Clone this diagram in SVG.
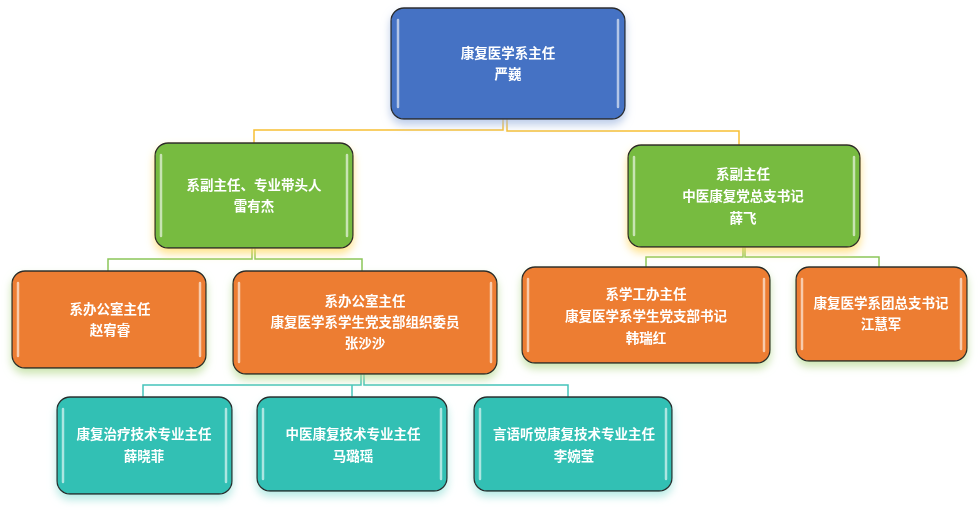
<svg xmlns="http://www.w3.org/2000/svg" width="979" height="512" viewBox="0 0 979 512">
<defs>
<filter id="gBlue" x="-20%" y="-20%" width="140%" height="150%"><feDropShadow dx="0" dy="5" stdDeviation="4" flood-color="#9fb6e0" flood-opacity="0.7"/></filter>
<filter id="gYellow" x="-20%" y="-20%" width="140%" height="150%"><feDropShadow dx="0" dy="5" stdDeviation="4" flood-color="#ffd966" flood-opacity="0.75"/></filter>
<filter id="gGreen" x="-20%" y="-20%" width="140%" height="150%"><feDropShadow dx="0" dy="5" stdDeviation="4" flood-color="#b9dc95" flood-opacity="0.75"/></filter>
<filter id="gTeal" x="-20%" y="-20%" width="140%" height="150%"><feDropShadow dx="0" dy="5" stdDeviation="4" flood-color="#9fe3dc" flood-opacity="0.75"/></filter>
</defs>
<style>
.box{stroke:#2b2b2b;stroke-width:1.3}
.blue{fill:#4472c4}
.green{fill:#77bb41}
.orange{fill:#ed7d31}
.teal{fill:#31c0b4}
.hl{stroke:#ffffff;stroke-opacity:0.6;stroke-width:2.5;stroke-linecap:round;fill:none}
.t{font-family:"Noto Sans CJK SC","Noto Sans",sans-serif;font-size:13.5px;font-weight:bold;fill:#ffffff;text-anchor:middle}
.c1{stroke:#f7c034;stroke-width:1.5;fill:none}
.c2{stroke:#8cc65a;stroke-width:1.5;fill:none}
.c3{stroke:#44c4ba;stroke-width:1.5;fill:none}
</style>
<rect width="979" height="512" fill="#ffffff"/>
<g id="connectors">
<path class="c1" d="M503,119 V130 H254 V143"/>
<path class="c1" d="M507,119 V131 H739 V145"/>
<path class="c2" d="M252,247 V259 H108 V271"/>
<path class="c2" d="M255,247 V259 H362 V271"/>
<path class="c2" d="M743,247 V257 H646 V267"/>
<path class="c2" d="M745,247 V257 H879 V267"/>
<path class="c3" d="M361,374 V385 H143 V397"/>
<path class="c3" d="M364,374 V385 H568 V397"/>
<path class="c3" d="M352,385 V397"/>
</g>
<g id="n-top" filter="url(#gBlue)">
<rect class="box blue" x="391" y="8" width="234" height="111" rx="13"/>
<line class="hl" x1="398" y1="20" x2="398" y2="107"/>
<line class="hl" x1="618" y1="20" x2="618" y2="107"/>
<text class="t" x="508" y="58">康复医学系主任</text>
<text class="t" x="508" y="79">严巍</text>
</g>
<g id="n-lei" filter="url(#gYellow)">
<rect class="box green" x="155" y="143" width="198" height="105" rx="13"/>
<line class="hl" x1="161" y1="155" x2="161" y2="236"/>
<line class="hl" x1="347" y1="155" x2="347" y2="236"/>
<text class="t" x="254" y="190">系副主任、专业带头人</text>
<text class="t" x="254" y="211">雷有杰</text>
</g>
<g id="n-xue" filter="url(#gYellow)">
<rect class="box green" x="628" y="145" width="232" height="102" rx="13"/>
<line class="hl" x1="634" y1="157" x2="634" y2="235"/>
<line class="hl" x1="854" y1="157" x2="854" y2="235"/>
<text class="t" x="743" y="179">系副主任</text>
<text class="t" x="743" y="201">中医康复党总支书记</text>
<text class="t" x="743" y="223">薛飞</text>
</g>
<g id="n-zhao" filter="url(#gGreen)">
<rect class="box orange" x="12" y="271" width="194" height="97" rx="13"/>
<line class="hl" x1="18" y1="283" x2="18" y2="356"/>
<line class="hl" x1="200" y1="283" x2="200" y2="356"/>
<text class="t" x="110" y="314">系办公室主任</text>
<text class="t" x="110" y="335">赵宥睿</text>
</g>
<g id="n-zhang" filter="url(#gGreen)">
<rect class="box orange" x="233" y="271" width="264" height="103" rx="13"/>
<line class="hl" x1="239" y1="283" x2="239" y2="362"/>
<line class="hl" x1="491" y1="283" x2="491" y2="362"/>
<text class="t" x="365" y="306">系办公室主任</text>
<text class="t" x="365" y="327">康复医学系学生党支部组织委员</text>
<text class="t" x="365" y="348">张沙沙</text>
</g>
<g id="n-han" filter="url(#gGreen)">
<rect class="box orange" x="522" y="267" width="248" height="96" rx="13"/>
<line class="hl" x1="528" y1="279" x2="528" y2="351"/>
<line class="hl" x1="764" y1="279" x2="764" y2="351"/>
<text class="t" x="646" y="299">系学工办主任</text>
<text class="t" x="646" y="321">康复医学系学生党支部书记</text>
<text class="t" x="646" y="343">韩瑞红</text>
</g>
<g id="n-jiang" filter="url(#gGreen)">
<rect class="box orange" x="796" y="267" width="171" height="94" rx="13"/>
<line class="hl" x1="802" y1="279" x2="802" y2="349"/>
<line class="hl" x1="961" y1="279" x2="961" y2="349"/>
<text class="t" x="881" y="308">康复医学系团总支书记</text>
<text class="t" x="881" y="329">江慧军</text>
</g>
<g id="n-t1" filter="url(#gTeal)">
<rect class="box teal" x="57" y="397" width="175" height="97" rx="13"/>
<line class="hl" x1="63" y1="409" x2="63" y2="482"/>
<line class="hl" x1="226" y1="409" x2="226" y2="482"/>
<text class="t" x="144" y="439">康复治疗技术专业主任</text>
<text class="t" x="144" y="461">薛晓菲</text>
</g>
<g id="n-t2" filter="url(#gTeal)">
<rect class="box teal" x="257" y="397" width="190" height="94" rx="13"/>
<line class="hl" x1="263" y1="409" x2="263" y2="479"/>
<line class="hl" x1="441" y1="409" x2="441" y2="479"/>
<text class="t" x="353" y="439">中医康复技术专业主任</text>
<text class="t" x="353" y="461">马璐瑶</text>
</g>
<g id="n-t3" filter="url(#gTeal)">
<rect class="box teal" x="474" y="397" width="198" height="94" rx="13"/>
<line class="hl" x1="480" y1="409" x2="480" y2="479"/>
<line class="hl" x1="666" y1="409" x2="666" y2="479"/>
<text class="t" x="574" y="439">言语听觉康复技术专业主任</text>
<text class="t" x="574" y="461">李婉莹</text>
</g>
</svg>
